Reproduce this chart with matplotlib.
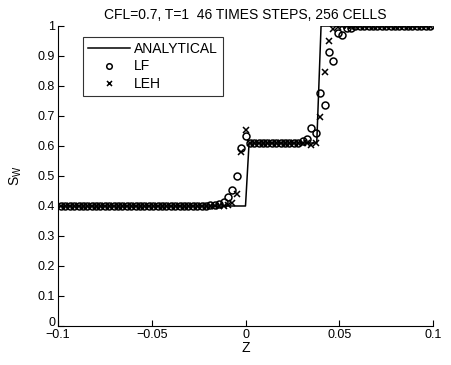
import numpy as np
import matplotlib
matplotlib.use("Agg")
import matplotlib.pyplot as plt

plt.rcParams['font.family'] = ['Liberation Sans', 'DejaVu Sans']
plt.rcParams['mathtext.fontset'] = 'custom'
plt.rcParams['mathtext.rm'] = 'Liberation Sans'

# Grid: cell index k, spacing 0.6/256 (only the visible window -0.1..0.1 is plotted)
DX = 0.6 / 256
cell_k = np.arange(-42, 43)

# Lax-Friedrichs (circles), k = -42 .. 42
lf_values = [
    0.40, 0.40, 0.40, 0.40, 0.40, 0.40, 0.40, 0.40, 0.40, 0.40,
    0.40, 0.40, 0.40, 0.40, 0.40, 0.40, 0.40, 0.40, 0.40, 0.40,
    0.40, 0.40, 0.40, 0.40, 0.40, 0.40, 0.40, 0.40, 0.40, 0.40,
    0.40, 0.40, 0.40,
    0.401, 0.402, 0.404, 0.408, 0.415, 0.43, 0.453, 0.50, 0.595, 0.635,
    0.61, 0.61, 0.61, 0.61, 0.61, 0.61, 0.61, 0.61, 0.61, 0.61, 0.61,
    0.611, 0.618, 0.622, 0.66, 0.642, 0.776, 0.738, 0.912, 0.883, 0.978,
    0.97, 0.995, 0.993,
    1.0, 1.0, 1.0, 1.0, 1.0, 1.0, 1.0, 1.0, 1.0, 1.0,
    1.0, 1.0, 1.0, 1.0, 1.0, 1.0, 1.0, 1.0,
]

# LEH scheme (x markers), k = -42 .. 42
leh_values = [
    0.40, 0.40, 0.40, 0.40, 0.40, 0.40, 0.40, 0.40, 0.40, 0.40,
    0.40, 0.40, 0.40, 0.40, 0.40, 0.40, 0.40, 0.40, 0.40, 0.40,
    0.40, 0.40, 0.40, 0.40, 0.40, 0.40, 0.40, 0.40, 0.40, 0.40,
    0.40, 0.40, 0.40, 0.40, 0.40, 0.40, 0.40, 0.40,
    0.402, 0.41, 0.44, 0.58, 0.655,
    0.61, 0.61, 0.61, 0.61, 0.61, 0.61, 0.61, 0.61, 0.61, 0.61,
    0.61, 0.61, 0.61, 0.61,
    0.603, 0.611, 0.698, 0.848, 0.95, 0.99, 0.998,
    1.0, 1.0, 1.0, 1.0, 1.0, 1.0, 1.0, 1.0, 1.0, 1.0,
    1.0, 1.0, 1.0, 1.0, 1.0, 1.0, 1.0, 1.0, 1.0, 1.0, 1.0,
]

# Analytical solution
ana_z = [-0.1, 0.0, 0.0019, 0.038, 0.0403, 0.1]
ana_s = [0.4, 0.4, 0.61, 0.61, 1.0, 1.0]

x_ticks = [-0.1, -0.05, 0, 0.05, 0.1]
x_ticklabels = ['\u22120.1', '\u22120.05', '0', '0.05', '0.1']
y_ticks = [0, 0.1, 0.2, 0.3, 0.4, 0.5, 0.6, 0.7, 0.8, 0.9, 1.0]
y_ticklabels = ['0', '0.1', '0.2', '0.3', '0.4', '0.5', '0.6', '0.7', '0.8', '0.9', '1']

z = cell_k * DX

fig = plt.figure(figsize=(4.51, 3.65), dpi=100)
ax = fig.add_axes([58 / 451, 39 / 365, 375 / 451, 300 / 365])

ax.plot(ana_z, ana_s, '-', color='black', lw=1.1, label='ANALYTICAL')
ax.plot(z, lf_values, 'o', ls='none', mfc='none', mec='black', ms=5.0, mew=1.1, label='LF')
ax.plot(z, leh_values, 'x', ls='none', color='black', ms=4.5, mew=1.1, label='LEH')

ax.set_xlim(-0.1, 0.1)
ax.set_ylim(0, 1)
ax.set_xticks(x_ticks)
ax.set_xticklabels(x_ticklabels)
ax.set_yticks(y_ticks)
ax.set_yticklabels(y_ticklabels)
ax.tick_params(direction='in', length=4, width=0.8, labelsize=9, colors='black', pad=2)
# nudge the y "0" label up a little, as in the reference
ax.get_yticklabels()[0].set_va('baseline')
for s in ['top', 'right']:
    ax.spines[s].set_visible(False)
for s in ['left', 'bottom']:
    ax.spines[s].set_linewidth(0.8)

ax.set_xlabel('Z', fontsize=10, labelpad=0)
ax.set_ylabel(r'S$_\mathregular{W}$', fontsize=10, labelpad=10)
ax.set_title('CFL=0.7, T=1  46 TIMES STEPS, 256 CELLS', fontsize=10, pad=5)

leg = ax.legend(loc='upper left', bbox_to_anchor=(0.067, 0.963), borderaxespad=0,
                fontsize=10, frameon=True, fancybox=False, edgecolor='black',
                handlelength=3.0, handletextpad=0.3, borderpad=0.35, labelspacing=0.25,
                markerscale=0.8)
leg.get_frame().set_linewidth(0.8)

fig.savefig('out.png', dpi=100)
